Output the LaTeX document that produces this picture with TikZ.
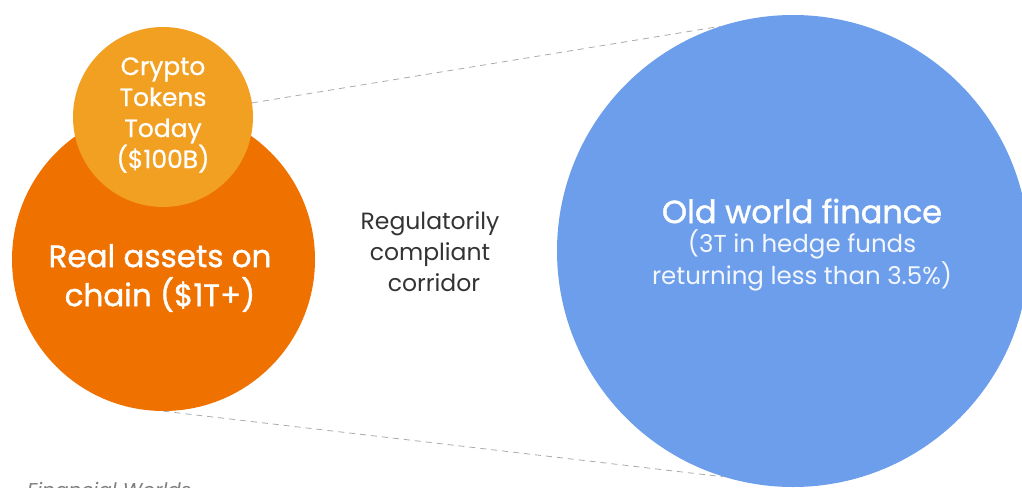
\documentclass[tikz,border=0pt]{standalone}
\usepackage{fontspec}
\setmainfont{Poppins}
\usetikzlibrary{positioning}
\definecolor{chainorange}{HTML}{EF7100}
\definecolor{tokenorange}{HTML}{F2A022}
\definecolor{oldblue}{HTML}{6D9EEB}
\definecolor{linegray}{HTML}{AAAAAA}

\begin{document}
\begin{tikzpicture}[x=1pt, y=-1pt,
  bubble/.style={circle, inner sep=0pt, draw=none},
  bubbletext/.style={align=center, inner sep=0pt, text=white},
  heavy/.style={font=\fontsize{#1}{39}\selectfont\addfontfeatures{FakeBold=1.2}},
  corridor/.style={draw=linegray, dashed, dash pattern=on 6pt off 5pt, line width=0.8pt}]
  \clip (0,0) rectangle (1022,487);
  \node[bubble, fill=oldblue, minimum size=472pt] (oldworld) at (793,251) {};
  \node[bubble, fill=chainorange, minimum size=303pt] (onchain) at (163.5,259.5) {};
  \node[bubble, fill=tokenorange, minimum size=180pt] (tokens) at (163,117) {};

  \draw[corridor] (tokens.9) -- (oldworld.108);
  \draw[corridor] (onchain.south) -- (oldworld.-107);

  \node[bubbletext, font=\fontsize{25}{31}\selectfont\addfontfeatures{FakeBold=0.8}] (tokenstext) at (163,115) {Crypto\\Tokens\\Today\\(\$100B)};
  \node[bubbletext, heavy=31] (chaintext) at (160,278) {Real assets on\\chain (\$1T+)};
  \node[bubbletext, text=black!80, font=\fontsize{23.5}{31}\selectfont] (corridortext) at (430,252) {Regulatorily\\compliant\\\hspace*{8pt}corridor};
  \node[bubbletext, heavy=32] (oldtitle) at (802,211) {Old world finance};
  \node[bubbletext, text=white!92!oldblue, font=\fontsize{24.5}{32}\selectfont] (oldsub) at (802,260) {(3T in hedge funds\\returning less than 3.5\%)};
  \node[anchor=base west, inner sep=0pt, text=black!50, font=\fontsize{20}{24}\selectfont\itshape] (worlds) at (27,497) {Financial Worlds};
\end{tikzpicture}
\end{document}
